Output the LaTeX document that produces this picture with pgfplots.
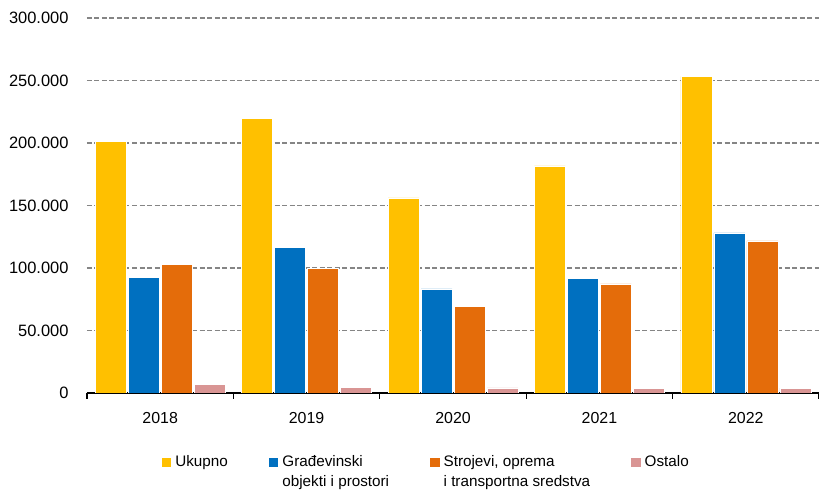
\documentclass[border=0pt]{standalone}
\usepackage{fontspec}
\setmainfont{Liberation Sans}
\usepackage{pgfplots}
\pgfplotsset{compat=1.18}
\definecolor{cU}{HTML}{FFC000}
\definecolor{cG}{HTML}{0070C0}
\definecolor{cS}{HTML}{E46C0A}
\definecolor{cO}{HTML}{D99594}
\newcommand{\oneline}[1]{\smash{#1}}
\newcommand{\twoline}[2]{\smash{\begin{tabular}[t]{@{}l@{}}#1\\#2\end{tabular}}}
\begin{document}
\begin{tikzpicture}[x=1bp,y=1bp]
\path[use as bounding box] (-87,-98) rectangle (732,393);
\begin{axis}[
  at={(0,0)}, anchor=south west,
  scale only axis, width=732bp, height=375bp,
  xmin=-0.5, xmax=4.5, ymin=0, ymax=300000,
  ybar=2bp, bar width=31bp,
  axis x line*=bottom, axis y line*=left,
  x axis line style={line width=1.6bp, black, -},
  y axis line style={draw=none},
  ytick={0,50000,...,300000},
  ytick style={draw=none},
  ymajorgrids,
  major grid style={dash pattern=on 5bp off 2.5bp, line width=1.1bp, color=black!48},
  xtick={0,1,2,3,4},
  xticklabels={2018,2019,2020,2021,2022},
  major x tick style={draw=none},
  minor xtick={-0.5,0.5,1.5,2.5,3.5,4.5},
  minor x tick style={black, line width=1.2bp},
  xtick align=outside,
  minor tick length=6bp,
  scaled y ticks=false,
  yticklabel={\pgfmathprintnumber[fixed,precision=0,1000 sep={.},assume math mode=true]{\tick}},
  yticklabel style={font=\fontsize{16.5}{19}\selectfont, xshift=-15bp},
  xticklabel style={font=\fontsize{16}{19}\selectfont, yshift=-12bp},
  legend columns=4,
  legend style={at={(axis description cs:0.102,-0.1725)}, anchor=north west, draw=none, inner sep=0pt,
    font=\fontsize{15.3}{20}\selectfont,
    /tikz/every even column/.append style={column sep=37bp},
    nodes={inner xsep=4bp, inner ysep=0pt}},
  legend image code/.code={\fill[#1,draw=none] (0bp,-0.3bp) rectangle (9.5bp,9.2bp);},
  every axis plot/.append style={draw=white, line width=0.6bp},
]
\addplot[fill=cU] coordinates {(0,201000) (1,219600) (2,156000) (3,181600) (4,253200)};
\addlegendentry{\oneline{Ukupno}}
\addplot[fill=cG] coordinates {(0,92300) (1,116300) (2,83300) (3,91500) (4,128000)};
\addlegendentry{\twoline{Građevinski}{objekti i prostori}}
\addplot[fill=cS] coordinates {(0,102700) (1,99500) (2,69300) (3,87200) (4,121600)};
\addlegendentry{\twoline{Strojevi, oprema}{i transportna sredstva}}
\addplot[fill=cO] coordinates {(0,6600) (1,4500) (2,4000) (3,3900) (4,3900)};
\addlegendentry{\oneline{Ostalo}}
\end{axis}
\end{tikzpicture}
\end{document}
